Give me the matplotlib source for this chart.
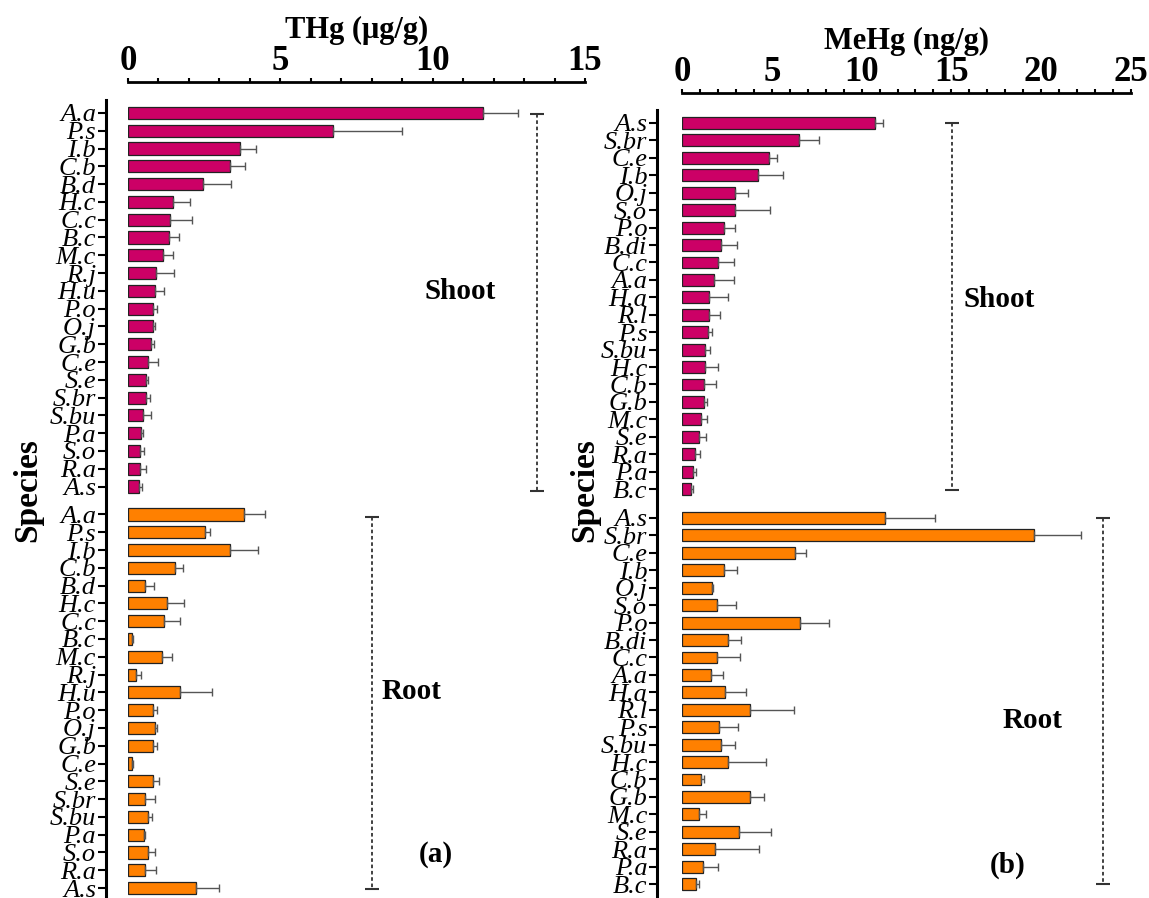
import matplotlib
matplotlib.use('Agg')
import matplotlib.pyplot as plt
from matplotlib.ticker import MultipleLocator

plt.rcParams['font.family'] = ['Liberation Serif', 'DejaVu Serif']

########### Data
# panel (a) THg, ug/g
THG_SPECIES = ["A.a", "P.s", "I.b", "C.b", "B.d", "H.c", "C.c", "B.c", "M.c", "R.j", "H.u",
               "P.o", "O.j", "G.b", "C.e", "S.e", "S.br", "S.bu", "P.a", "S.o", "R.a", "A.s"]
THG_SHOOT = [11.64, 6.72, 3.69, 3.34, 2.45, 1.49, 1.38, 1.33, 1.14, 0.91, 0.90,
             0.82, 0.82, 0.75, 0.67, 0.60, 0.58, 0.50, 0.43, 0.39, 0.38, 0.37]
THG_SHOOT_ERR = [1.16, 2.26, 0.50, 0.50, 0.92, 0.54, 0.71, 0.35, 0.34, 0.60, 0.27,
                 0.13, 0.05, 0.11, 0.33, 0.06, 0.15, 0.26, 0.07, 0.12, 0.21, 0.08]
THG_ROOT = [3.81, 2.52, 3.34, 1.55, 0.57, 1.27, 1.18, 0.12, 1.12, 0.27, 1.70,
            0.81, 0.90, 0.83, 0.14, 0.81, 0.57, 0.66, 0.53, 0.67, 0.57, 2.23]
THG_ROOT_ERR = [0.68, 0.16, 0.93, 0.26, 0.27, 0.58, 0.52, 0.05, 0.33, 0.16, 1.06,
                0.13, 0.05, 0.12, 0.03, 0.22, 0.30, 0.12, 0.04, 0.22, 0.36, 0.76]

# panel (b) MeHg, ng/g
MEHG_SPECIES = ["A.s", "S.br", "C.e", "I.b", "O.j", "S.o", "P.o", "B.di", "C.c", "A.a", "H.a",
                "R.l", "P.s", "S.bu", "H.c", "C.b", "G.b", "M.c", "S.e", "R.a", "P.a", "B.c"]
MEHG_SHOOT = [10.75, 6.50, 4.84, 4.23, 2.97, 2.97, 2.34, 2.19, 2.02, 1.78, 1.50,
              1.50, 1.45, 1.30, 1.26, 1.21, 1.21, 1.06, 0.93, 0.72, 0.59, 0.48]
MEHG_SHOOT_ERR = [0.45, 1.15, 0.45, 1.37, 0.72, 1.95, 0.61, 0.87, 0.88, 1.12, 1.08,
                  0.60, 0.22, 0.24, 0.74, 0.70, 0.20, 0.35, 0.39, 0.28, 0.21, 0.15]
MEHG_ROOT = [11.30, 19.60, 6.27, 2.34, 1.67, 1.93, 6.55, 2.54, 1.97, 1.63, 2.39,
             3.77, 2.04, 2.15, 2.54, 1.06, 3.80, 0.93, 3.17, 1.84, 1.19, 0.78]
MEHG_ROOT_ERR = [2.80, 2.60, 0.63, 0.72, 0.04, 1.07, 1.63, 0.73, 1.26, 0.65, 1.19,
                 2.48, 1.10, 0.78, 2.16, 0.16, 0.78, 0.39, 1.77, 2.46, 0.83, 0.18]
###########

SHOOT_COLOR = '#CC0066'
ROOT_COLOR = '#FF8000'
FIG_W, FIG_H = 1149, 898


def draw_panel(ax, species, shoot, shoot_err, root, root_err, gap, xmax, title, ylim, spine_top, offset):
    n = len(species)
    pos_shoot = list(range(n))
    pos_root = [n - 1 + gap + i for i in range(n)]

    err_kw = dict(ecolor='#555555', elinewidth=1.0, capsize=3, capthick=1.0)
    ax.barh(pos_shoot, shoot, height=0.68, color=SHOOT_COLOR, edgecolor='#222222',
            linewidth=0.9, xerr=[[0] * n, shoot_err], error_kw=err_kw)
    ax.barh(pos_root, root, height=0.68, color=ROOT_COLOR, edgecolor='#222222',
            linewidth=0.9, xerr=[[0] * n, root_err], error_kw=err_kw)

    ax.set_xlim(0, xmax)
    ax.set_ylim(*ylim)

    # spines first: set_position resets the ticks
    for s in ['right', 'bottom']:
        ax.spines[s].set_visible(False)
    ax.spines['top'].set_linewidth(2)
    ax.spines['left'].set_linewidth(2.2)
    ax.spines['top'].set_bounds(0, xmax)
    ax.spines['left'].set_bounds(ylim[0], spine_top)
    ax.spines['left'].set_position(('outward', offset))

    ax.xaxis.tick_top()
    ax.xaxis.set_label_position('top')
    ax.xaxis.set_major_locator(MultipleLocator(5))
    ax.xaxis.set_minor_locator(MultipleLocator(1))
    ax.tick_params(axis='x', which='major', length=3, width=1.5, pad=0, labelsize=25)
    ax.tick_params(axis='x', which='minor', length=3, width=1.5)
    ax.tick_params(axis='y', which='major', length=6, width=1.5, pad=1, labelsize=19)
    ax.set_yticks(pos_shoot + pos_root)
    ax.set_yticklabels(species + species, fontstyle='italic')
    ax.set_xticks(ax.get_xticks())
    ax.set_xticklabels([f'{int(v)}' for v in ax.get_xticks()], fontweight='bold')
    ax.set_xlim(0, xmax)
    ax.set_xlabel(title, fontsize=22, fontweight='bold', labelpad=5)
    return pos_shoot, pos_root


def bracket(ax, x, y0, y1):
    ax.plot([x, x], [y0, y1], color='#333333', linestyle=(0, (2, 1.5)), linewidth=1.3)
    ax.plot([x, x], [y0, y1], color='#333333', linestyle='none', marker='_',
            markersize=10, markeredgewidth=1.5)


fig = plt.figure(figsize=(FIG_W / 100, FIG_H / 100), dpi=100)

# panel (a)
ax1 = fig.add_axes([128 / FIG_W, 0, (585 - 128) / FIG_W, (FIG_H - 82) / FIG_H])
draw_panel(ax1, THG_SPECIES, THG_SHOOT, THG_SHOOT_ERR, THG_ROOT, THG_ROOT_ERR,
           gap=1.57, xmax=15, title='THg (μg/g)', ylim=(44.13, -1.74), spine_top=-0.73, offset=16)
bracket(ax1, 13.42, 0.05, 21.25)
bracket(ax1, 8.0, 22.7, 43.62)
ax1.text(10.9, 10.06, 'Shoot', fontsize=21, fontweight='bold', ha='center', va='center')
ax1.text(9.32, 32.55, 'Root', fontsize=21, fontweight='bold', ha='center', va='center')
ax1.text(10.1, 41.7, '(a)', fontsize=21, fontweight='bold', ha='center', va='center')

# panel (b)
ax2 = fig.add_axes([682 / FIG_W, 0, (1131 - 682) / FIG_W, (FIG_H - 93) / FIG_H])
draw_panel(ax2, MEHG_SPECIES, MEHG_SHOOT, MEHG_SHOOT_ERR, MEHG_ROOT, MEHG_ROOT_ERR,
           gap=1.66, xmax=25, title='MeHg (ng/g)', ylim=(44.46, -1.72), spine_top=-0.75, offset=18)
bracket(ax2, 15.03, 0.0, 21.06)
bracket(ax2, 23.44, 22.66, 43.66)
ax2.text(17.65, 10.15, 'Shoot', fontsize=21, fontweight='bold', ha='center', va='center')
ax2.text(19.54, 34.25, 'Root', fontsize=21, fontweight='bold', ha='center', va='center')
ax2.text(18.15, 42.57, '(b)', fontsize=21, fontweight='bold', ha='center', va='center')

fig.text(28 / FIG_W, 1 - 490 / FIG_H, 'Species', rotation=90, fontsize=24, fontweight='bold',
         ha='center', va='center')
fig.text(585 / FIG_W, 1 - 490 / FIG_H, 'Species', rotation=90, fontsize=24, fontweight='bold',
         ha='center', va='center')

fig.savefig('out.png', dpi=100)
